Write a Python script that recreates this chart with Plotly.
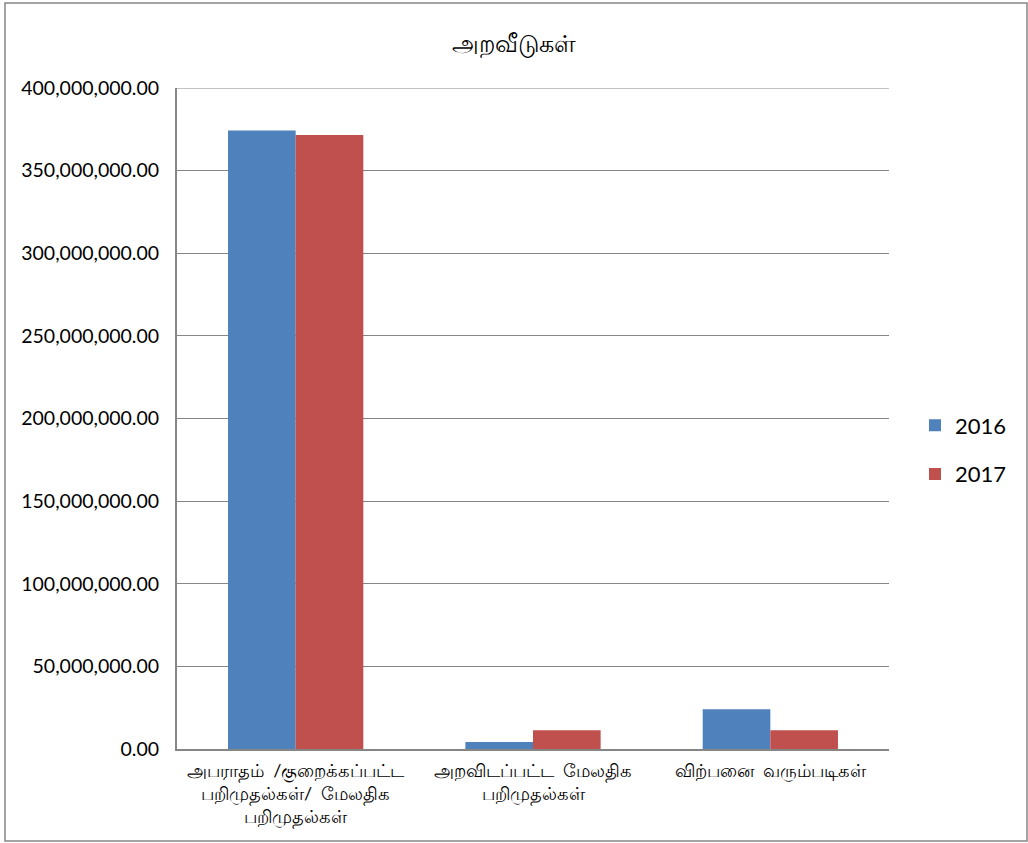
import plotly.graph_objects as go

S = "\u00a0 "
categories = [
    "அபராதம்" + S + "/குறைக்கப்பட்ட<br>பறிமுதல்கள்/" + S + "மேலதிக<br>பறிமுதல்கள்",
    "அறவிடப்பட்ட" + S + "மேலதிக<br>பறிமுதல்கள்",
    "விற்பனை" + S + "வரும்படிகள்",
]
values_2016 = [374300000, 4200000, 24000000]
values_2017 = [371600000, 11300000, 11400000]
tick_values = [0, 50e6, 100e6, 150e6, 200e6, 250e6, 300e6, 350e6, 400e6]

fig = go.Figure()
fig.add_trace(go.Bar(name="2016", x=categories, y=values_2016, legendgroup="a",
                     marker=dict(color="#4F81BD", line=dict(width=0))))
fig.add_trace(go.Bar(name="2017", x=categories, y=values_2017, legendgroup="b",
                     marker=dict(color="#C0504D", line=dict(width=0))))

W, H = 1028, 843
l, r, t, b = 177, 889, 88, 749
fig.update_layout(
    width=W, height=H,
    margin=dict(l=l, r=W - r, t=t, b=H - b, autoexpand=False),
    paper_bgcolor="white", plot_bgcolor="white",
    barmode="group", bargap=0.43, bargroupgap=0,
    font=dict(family="Lato, 'Open Sans', sans-serif", color="black", size=16),
    title=dict(text="அறவீடுகள்", x=0.5, xanchor="center", y=1 - 44 / H, yanchor="middle",
               font=dict(size=24)),
    legend=dict(x=(915 - l) / (r - l), y=(b - 450) / (b - t), yanchor="middle", xanchor="left",
                font=dict(size=22), tracegroupgap=17, itemwidth=30,
                bgcolor="rgba(0,0,0,0)"),
    showlegend=True,
)
fig.update_xaxes(showline=True, linecolor="#868686", linewidth=2, ticks="",
                 tickfont=dict(size=18), showgrid=False, ticklabelstandoff=4)
fig.update_yaxes(range=[0, 400e6], tickvals=tick_values, tickformat=",.2f",
                 showgrid=True, gridcolor="#868686", gridwidth=1,
                 showline=True, linecolor="#868686", linewidth=2,
                 ticks="", tickfont=dict(size=19.5), zeroline=False,
                 ticklabelstandoff=12)
fig.add_shape(type="line", xref="paper", yref="y", x0=0, x1=1, y0=400e6, y1=400e6,
              line=dict(color="#868686", width=1))
fig.add_shape(type="rect", xref="paper", yref="paper",
              x0=(5 - l) / (r - l), x1=(1027 - l) / (r - l),
              y0=(b - 841) / (b - t), y1=(b - 3) / (b - t),
              line=dict(color="#868686", width=1.5), layer="below")
fig.write_html("out.html", config={"displayModeBar": False},
               post_script="document.body.style.margin='0';document.body.style.overflow='hidden';")
